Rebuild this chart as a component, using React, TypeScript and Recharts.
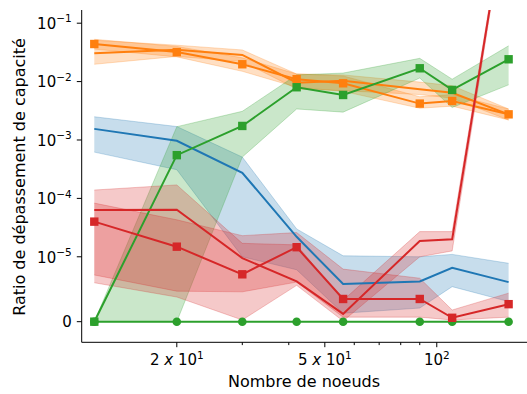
import { ComposedChart, Line, Area, XAxis, YAxis } from 'recharts';

// nombre de noeuds
const nodes = [12, 20, 30, 42, 56, 90, 110, 156];

const blueMean = [1.55e-3, 9.7e-4, 2.75e-4, 2.2e-5, 5.8e-6, 6.2e-6, 8.3e-6, 6.1e-6];
const blueLow = [6.2e-4, 3.1e-4, 1.0e-5, 8.0e-6, 1.3e-6, 2.1e-6, 5.4e-6, 3.1e-6];
const blueHigh = [2.5e-3, 1.7e-3, 5.1e-4, 3.0e-5, 1.04e-5, 1.0e-5, 1.1e-5, 9.0e-6];

const orangeSq = [4.4e-2, 3.2e-2, 1.98e-2, 1.1e-2, 9.35e-3, 4.2e-3, 4.66e-3, 2.75e-3];
const orangeSqLow = [3.6e-2, 2.65e-2, 1.5e-2, 8.0e-3, 6.8e-3, 3.5e-3, 3.8e-3, 2.2e-3];
const orangeSqHigh = [5.3e-2, 4.0e-2, 2.55e-2, 1.35e-2, 1.25e-2, 5.5e-3, 6.0e-3, 3.4e-3];
const orangeAlt = [3.05e-2, 3.5e-2, 2.86e-2, 9.6e-3, 1.03e-2, 7.4e-3, 6.45e-3, 2.75e-3];
const orangeAltLow = [1.98e-2, 2.7e-2, 2.2e-2, 7.5e-3, 7.0e-3, 6.0e-3, 5.2e-3, 2.2e-3];
const orangeAltHigh = [5.1e-2, 4.2e-2, 3.48e-2, 1.35e-2, 1.3e-2, 9.8e-3, 8.5e-3, 3.4e-3];

const greenSq = [0, 5.5e-4, 1.74e-3, 8.0e-3, 5.9e-3, 1.69e-2, 7.2e-3, 2.41e-2];
const greenLow = [0, 0, 5.1e-4, 3.4e-3, 3.0e-3, 1.15e-2, 3.6e-3, 8.8e-3];
const greenHigh = [0, 1.69e-3, 3.1e-3, 1.3e-2, 1.4e-2, 2.5e-2, 1.1e-2, 4.1e-2];
const greenZero = [0, 0, 0, 0, 0, 0, 0, 0];

const redSq = [4.0e-5, 1.49e-5, 7.3e-6, 1.46e-5, 3.5e-6, 3.5e-6, 6e-7, 2.7e-6];
const redSqLow = [7.2e-6, 4.7e-6, 4.6e-6, 6.1e-6, 7e-7, 7e-7, 2.6e-7, 7e-7];
const redSqHigh = [8.3e-5, 4.3e-5, 2.3e-5, 2.6e-5, 8.1e-6, 6.7e-6, 1.8e-6, 4.4e-6];
const redAlt = [6.3e-5, 6.4e-5, 9.8e-6, 6.2e-6, 1.2e-6, 1.87e-5, 2.0e-5, 17];
const redAltLow = [6.0e-6, 3.8e-6, 2.6e-7, 5.6e-6, 1e-7, 1.0e-5, 1.26e-5, 15];
const redAltHigh = [1.39e-4, 1.7e-4, 1.7e-5, 1.6e-5, 3.3e-6, 2.7e-5, 2.7e-5, 20];

const xMajor = [20, 50, 100];
const xMinor = [30, 40, 60, 70, 80, 90];
const yTickValues = [0, 1e-5, 1e-4, 1e-3, 1e-2, 1e-1];

// symlog, linthresh 1e-5, linscale 1 (comme matplotlib)
const LIN = 1e-5;
const LIN_SCALE = 1 / (1 - 1 / 10);
const sym = (v: number) => (v <= LIN ? (v / LIN) * LIN_SCALE : LIN_SCALE + Math.log10(v / LIN));

const data = nodes.map((n, i) => ({
  n,
  blue: sym(blueMean[i]),
  blueBand: [sym(blueLow[i]), sym(blueHigh[i])],
  orangeSq: sym(orangeSq[i]),
  orangeSqBand: [sym(orangeSqLow[i]), sym(orangeSqHigh[i])],
  orangeAlt: sym(orangeAlt[i]),
  orangeAltBand: [sym(orangeAltLow[i]), sym(orangeAltHigh[i])],
  greenSq: sym(greenSq[i]),
  greenBand: [sym(greenLow[i]), sym(greenHigh[i])],
  greenZero: sym(greenZero[i]),
  redSq: sym(redSq[i]),
  redSqBand: [sym(redSqLow[i]), sym(redSqHigh[i])],
  redAlt: sym(redAlt[i]),
  redAltBand: [sym(redAltLow[i]), sym(redAltHigh[i])],
}));

const BLUE = '#1f77b4';
const ORANGE = '#ff7f0e';
const GREEN = '#2ca02c';
const RED = '#d62728';
const FONT = '"DejaVu Sans", sans-serif';

const squareDot = (color: string) => (props: any) => {
  const { cx, cy, index } = props;
  if (cx == null || cy == null) return <g key={index} />;
  return <rect key={index} x={cx - 4.2} y={cy - 4.2} width={8.4} height={8.4} fill={color} />;
};

const circleDot = (color: string) => (props: any) => {
  const { cx, cy, index } = props;
  if (cx == null || cy == null) return <g key={index} />;
  return <circle key={index} cx={cx} cy={cy} r={4.3} fill={color} />;
};

const XTick = ({ x, y, payload }: any) => {
  const v = payload.value;
  const major = xMajor.includes(v);
  const mant = v === 100 ? null : String(v / 10);
  const exp = v === 100 ? '2' : '1';
  return (
    <g>
      <line x1={x} x2={x} y1={y} y2={y + (major ? 4.9 : 2.8)} stroke="#000" strokeWidth={1} />
      {major && (
        <text x={x} y={y + 22.7} textAnchor="middle" fontSize={15} fontFamily={FONT} fill="#000">
          {mant && <tspan>{mant} </tspan>}
          {mant && <tspan fontStyle="italic">x</tspan>}
          <tspan>{mant ? ' 10' : '10'}</tspan>
          <tspan dy={-6.5} fontSize={10.5}>{exp}</tspan>
        </text>
      )}
    </g>
  );
};

const YTick = ({ x, y, payload }: any) => {
  const idx = yTickValues.findIndex(v => Math.abs(sym(v) - payload.value) < 1e-6);
  const raw = yTickValues[idx];
  return (
    <g>
      <line x1={x - 4.9} x2={x} y1={y} y2={y} stroke="#000" strokeWidth={1} />
      <text x={x - 10} y={y + 5.8} textAnchor="end" fontSize={15} fontFamily={FONT} fill="#000">
        {raw === 0 ? (
          <tspan>0</tspan>
        ) : (
          <>
            <tspan>10</tspan>
            <tspan dy={-6.5} fontSize={10.5}>{'\u2212' + String(-Math.round(Math.log10(raw)))}</tspan>
          </>
        )}
      </text>
    </g>
  );
};

const band = (key: string, color: string) => (
  <Area
    key={key}
    dataKey={key}
    type="linear"
    stroke={color}
    strokeOpacity={0.25}
    strokeWidth={1}
    fill={color}
    fillOpacity={0.25}
    isAnimationActive={false}
    activeDot={false}
  />
);

export default function App() {
  return (
    <div style={{ position: 'absolute', left: 0, top: 0, width: 527, height: 394, overflow: 'hidden', background: '#fff' }}>
      <ComposedChart width={540} height={394} data={data} margin={{ top: 10, right: 9, bottom: 0, left: 0 }}>
        <XAxis
          dataKey="n"
          type="number"
          scale="log"
          domain={[11.1, 179.2]}
          allowDataOverflow
          ticks={[...xMajor, ...xMinor].sort((a, b) => a - b)}
          interval={0}
          tickSize={0}
          tickMargin={0}
          tickLine={false}
          tick={<XTick />}
          height={51.7}
          axisLine={{ stroke: '#000', strokeWidth: 1 }}
        />
        <XAxis
          xAxisId="top"
          dataKey="n"
          type="number"
          scale="log"
          domain={[11.1, 179.2]}
          allowDataOverflow
          orientation="top"
          height={0}
          tick={false}
          tickLine={false}
          axisLine={{ stroke: '#000', strokeWidth: 1 }}
        />
        <YAxis
          type="number"
          domain={[-0.353, 5.337]}
          allowDataOverflow
          ticks={yTickValues.map(sym)}
          interval={0}
          tickSize={0}
          tickMargin={0}
          tickLine={false}
          tick={<YTick />}
          width={81.7}
          axisLine={{ stroke: '#000', strokeWidth: 1 }}
        />

        {band('blueBand', BLUE)}
        <Line dataKey="blue" type="linear" stroke={BLUE} strokeWidth={2} dot={false} isAnimationActive={false} />

        {band('orangeSqBand', ORANGE)}
        {band('orangeAltBand', ORANGE)}
        <Line dataKey="orangeAlt" type="linear" stroke={ORANGE} strokeWidth={2} dot={false} isAnimationActive={false} />
        <Line dataKey="orangeSq" type="linear" stroke={ORANGE} strokeWidth={2} dot={squareDot(ORANGE)} isAnimationActive={false} />

        {band('greenBand', GREEN)}
        <Line dataKey="greenSq" type="linear" stroke={GREEN} strokeWidth={2} dot={squareDot(GREEN)} isAnimationActive={false} />
        <Line dataKey="greenZero" type="linear" stroke={GREEN} strokeWidth={2} dot={circleDot(GREEN)} isAnimationActive={false} />

        {band('redSqBand', RED)}
        {band('redAltBand', RED)}
        <Line dataKey="redAlt" type="linear" stroke={RED} strokeWidth={2} dot={false} isAnimationActive={false} />
        <Line dataKey="redSq" type="linear" stroke={RED} strokeWidth={2} dot={squareDot(RED)} isAnimationActive={false} />
      </ComposedChart>
      <svg width={527} height={394} style={{ position: 'absolute', left: 0, top: 0, pointerEvents: 'none' }}>
        <text x={304} y={387} textAnchor="middle" fontSize={16} fontFamily={FONT} fill="#000">
          Nombre de noeuds
        </text>
        <text
          x={0}
          y={0}
          transform="translate(25 177) rotate(-90)"
          textAnchor="middle"
          fontSize={16}
          fontFamily={FONT}
          fill="#000"
        >
          Ratio de dépassement de capacité
        </text>
      </svg>
    </div>
  );
}
